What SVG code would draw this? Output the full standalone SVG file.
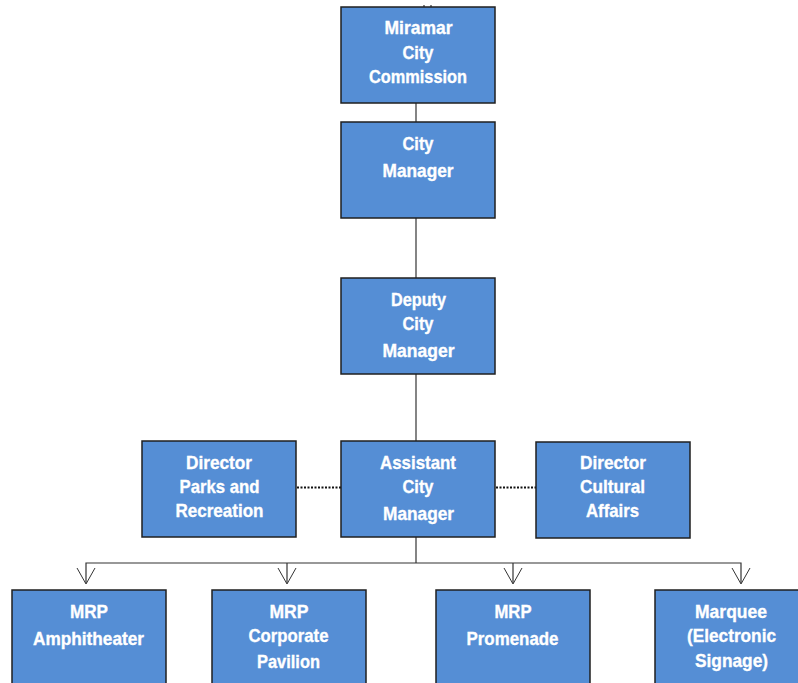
<svg xmlns="http://www.w3.org/2000/svg" width="798" height="683" viewBox="0 0 798 683">
<defs>
<style>
.box{fill:#558ed5;stroke:#1f1f1f;stroke-width:1.5}
.t{font-family:"Liberation Sans","Arial",sans-serif;font-weight:bold;font-size:19px;fill:#fff;stroke:#fff;stroke-width:0.35;text-anchor:middle}
.ln{stroke:#333;stroke-width:1.2;fill:none}
.dot{stroke:#111;stroke-width:2;stroke-dasharray:2 1.5;fill:none}
.arr{stroke:#333;stroke-width:1;fill:none}
</style>
</defs>
<rect width="798" height="683" fill="#fff"/>
<g id="connectors">
<line class="ln" x1="424" y1="5" x2="424" y2="7"/>
<line class="ln" x1="431" y1="5" x2="431" y2="7"/>
<line class="ln" x1="416" y1="103" x2="416" y2="122"/>
<line class="ln" x1="416" y1="218" x2="416" y2="278"/>
<line class="ln" x1="416" y1="374" x2="416" y2="441"/>
<line class="ln" x1="416" y1="537" x2="416" y2="563"/>
<polyline class="ln" points="86,583 86,563 741,563 741,583"/>
<line class="ln" x1="287" y1="563" x2="287" y2="583"/>
<line class="ln" x1="513" y1="563" x2="513" y2="583"/>
<path class="arr" d="M77,568 L86,584 L95,568 M278,568 L287,584 L296,568 M504,568 L513,584 L522,568 M732,568 L741,584 L750,568"/>
<line class="dot" x1="297" y1="487.5" x2="341" y2="487.5"/>
<line class="dot" x1="496" y1="487.5" x2="536" y2="487.5"/>
</g>
<g id="miramar-city-commission">
<rect class="box" x="341" y="7" width="154" height="96"/>
<text class="t" x="418.5" y="34" textLength="68" lengthAdjust="spacingAndGlyphs">Miramar</text>
<text class="t" x="418" y="58.5" textLength="31" lengthAdjust="spacingAndGlyphs">City</text>
<text class="t" x="418" y="83" textLength="98" lengthAdjust="spacingAndGlyphs">Commission</text>
</g>
<g id="city-manager">
<rect class="box" x="341" y="122" width="154" height="96"/>
<text class="t" x="418" y="150" textLength="31" lengthAdjust="spacingAndGlyphs">City</text>
<text class="t" x="418" y="177" textLength="71" lengthAdjust="spacingAndGlyphs">Manager</text>
</g>
<g id="deputy-city-manager">
<rect class="box" x="341" y="278" width="154" height="96"/>
<text class="t" x="418.5" y="306" textLength="55" lengthAdjust="spacingAndGlyphs">Deputy</text>
<text class="t" x="418" y="330" textLength="31" lengthAdjust="spacingAndGlyphs">City</text>
<text class="t" x="418.5" y="356.5" textLength="72" lengthAdjust="spacingAndGlyphs">Manager</text>
</g>
<g id="assistant-city-manager">
<rect class="box" x="341" y="441" width="154" height="96"/>
<text class="t" x="418" y="468.5" textLength="76" lengthAdjust="spacingAndGlyphs">Assistant</text>
<text class="t" x="418" y="493" textLength="31" lengthAdjust="spacingAndGlyphs">City</text>
<text class="t" x="418.5" y="520" textLength="71" lengthAdjust="spacingAndGlyphs">Manager</text>
</g>
<g id="director-parks">
<rect class="box" x="142" y="441" width="154" height="96"/>
<text class="t" x="219" y="468.5" textLength="66" lengthAdjust="spacingAndGlyphs">Director</text>
<text class="t" x="219.5" y="493" textLength="80" lengthAdjust="spacingAndGlyphs">Parks and</text>
<text class="t" x="219.5" y="517" textLength="88" lengthAdjust="spacingAndGlyphs">Recreation</text>
</g>
<g id="director-cultural">
<rect class="box" x="536" y="442" width="154" height="96"/>
<text class="t" x="613" y="469" textLength="66" lengthAdjust="spacingAndGlyphs">Director</text>
<text class="t" x="612.5" y="493" textLength="65" lengthAdjust="spacingAndGlyphs">Cultural</text>
<text class="t" x="612.5" y="517" textLength="53" lengthAdjust="spacingAndGlyphs">Affairs</text>
</g>
<g id="mrp-amphitheater">
<rect class="box" x="12" y="590" width="154" height="100"/>
<text class="t" x="89" y="618" textLength="38" lengthAdjust="spacingAndGlyphs">MRP</text>
<text class="t" x="88.5" y="645" textLength="111" lengthAdjust="spacingAndGlyphs">Amphitheater</text>
</g>
<g id="mrp-corporate-pavilion">
<rect class="box" x="212" y="590" width="154" height="100"/>
<text class="t" x="289" y="618" textLength="39" lengthAdjust="spacingAndGlyphs">MRP</text>
<text class="t" x="288.5" y="642" textLength="80" lengthAdjust="spacingAndGlyphs">Corporate</text>
<text class="t" x="288.5" y="668" textLength="63" lengthAdjust="spacingAndGlyphs">Pavilion</text>
</g>
<g id="mrp-promenade">
<rect class="box" x="436" y="590" width="154" height="100"/>
<text class="t" x="513" y="618" textLength="37" lengthAdjust="spacingAndGlyphs">MRP</text>
<text class="t" x="512.5" y="645" textLength="92" lengthAdjust="spacingAndGlyphs">Promenade</text>
</g>
<g id="marquee">
<rect class="box" x="655" y="590" width="154" height="100"/>
<text class="t" x="731" y="618" textLength="72" lengthAdjust="spacingAndGlyphs">Marquee</text>
<text class="t" x="731.5" y="642" textLength="89" lengthAdjust="spacingAndGlyphs">(Electronic</text>
<text class="t" x="731.5" y="667" textLength="73" lengthAdjust="spacingAndGlyphs">Signage)</text>
</g>
</svg>
